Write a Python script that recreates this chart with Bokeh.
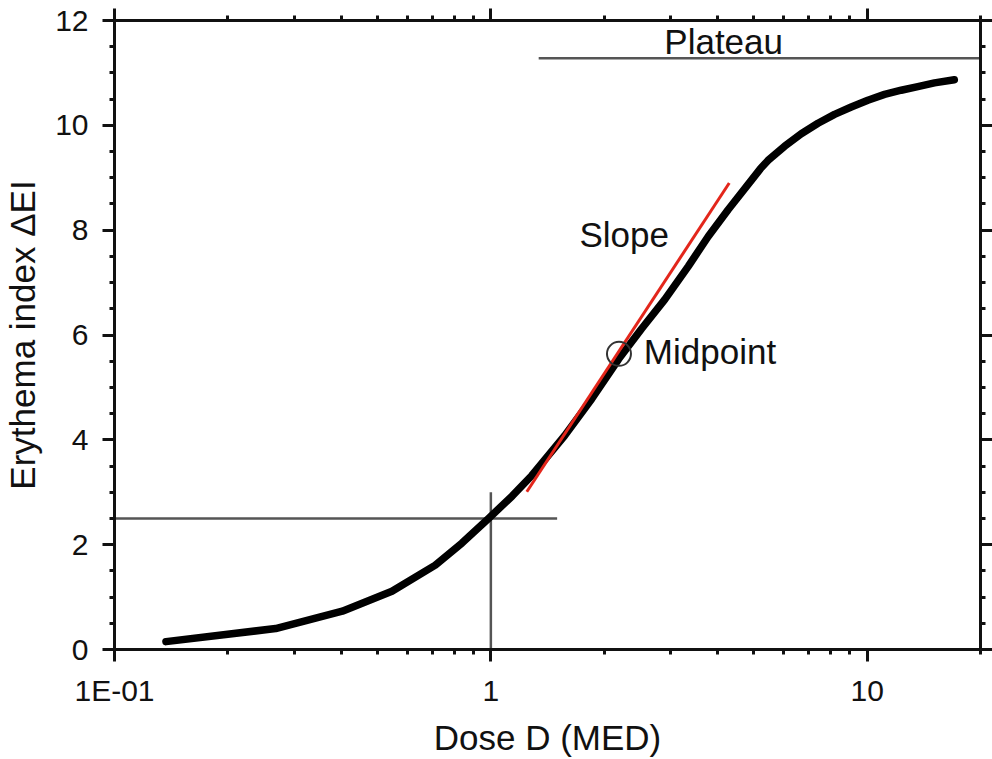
from bokeh.plotting import figure
from bokeh.models import (LogAxis, LinearAxis, FixedTicker, SingleIntervalTicker,
                          Label, Range1d, LogScale)
from bokeh.embed import file_html
from bokeh.resources import INLINE

# ---- data ----
dose = [0.137, 0.268, 0.403, 0.546, 0.712, 0.838, 0.986, 1.14, 1.285,
        1.571, 1.853, 2.186, 2.515, 2.90, 3.346, 3.78, 4.27, 4.92, 5.2,
        5.45, 6.03, 6.68, 7.40, 8.19, 9.07, 10.04, 11.12, 12.31, 13.63,
        15.09, 17.04]
erythema = [0.15, 0.40, 0.73, 1.11, 1.61, 2.03, 2.50, 2.93, 3.32,
            4.08, 4.78, 5.54, 6.12, 6.68, 7.31, 7.88, 8.39, 8.95, 9.17,
            9.33, 9.60, 9.84, 10.04, 10.21, 10.35, 10.48, 10.59, 10.67,
            10.74, 10.81, 10.87]

slope_x = [1.246, 4.30]
slope_y = [3.01, 8.90]

threshold_h_x = [0.1, 1.5]
threshold_h_y = [2.5, 2.5]
threshold_v_x = [1.0, 1.0]
threshold_v_y = [0.0, 3.0]

plateau_x = [1.34, 20.0]
plateau_y = [11.28, 11.28]

midpoint_x = [2.19]
midpoint_y = [5.64]

x_major = [0.1, 1, 10]
x_minor = [0.2, 0.3, 0.4, 0.5, 0.6, 0.7, 0.8, 0.9,
           2, 3, 4, 5, 6, 7, 8, 9, 20]
x_labels = {0.1: "1E-01", 1: "1", 10: "10"}

FONT = "Liberation Sans"

p = figure(width=992, height=759,
           x_range=Range1d(0.1, 20), y_range=Range1d(0, 12),
           output_backend="svg", toolbar_location=None,
           min_border_left=113, min_border_right=12, min_border_top=20,
           min_border_bottom=107)
p.x_scale = LogScale()
p.below = []
p.left = []
p.grid.visible = False
p.outline_line_color = None
p.background_fill_color = "white"
p.border_fill_color = "white"


def style_axis(ax, show_labels, tick_out, standoff=12):
    ax.axis_line_width = 3
    ax.axis_line_color = "#111111"
    ax.major_tick_line_width = 3
    ax.minor_tick_line_width = 3
    ax.major_tick_line_color = "#111111"
    ax.minor_tick_line_color = "#111111"
    ax.major_tick_in = 0
    ax.major_tick_out = tick_out
    ax.minor_tick_in = 0
    ax.minor_tick_out = 5
    if show_labels:
        ax.major_label_text_font = FONT
        ax.major_label_text_font_size = "30px"
        ax.major_label_text_color = "#111111"
        ax.major_label_standoff = standoff
        ax.axis_label_text_font = FONT
        ax.axis_label_text_font_size = "35px"
        ax.axis_label_text_font_style = "normal"
        ax.axis_label_text_color = "#111111"
    else:
        ax.major_label_text_font_size = "1px"
        ax.major_label_text_alpha = 0
        ax.major_label_standoff = 0


def xticker():
    return FixedTicker(ticks=x_major, minor_ticks=x_minor)


def yticker():
    return SingleIntervalTicker(interval=2, num_minor_ticks=4)


xb = LogAxis(ticker=xticker(), major_label_overrides=x_labels,
             axis_label="Dose D (MED)")
style_axis(xb, True, 12, 12)
xb.axis_label_standoff = 8
p.add_layout(xb, "below")
xt = LogAxis(ticker=xticker())
style_axis(xt, False, 12)
p.add_layout(xt, "above")

yl = LinearAxis(ticker=yticker(), axis_label="Erythema index ΔEI")
style_axis(yl, True, 12, 14)
yl.axis_label_standoff = 10
yl.axis_label_text_line_height = 1.0
p.add_layout(yl, "left")
yr = LinearAxis(ticker=yticker())
style_axis(yr, False, 12)
p.add_layout(yr, "right")

# reference lines
p.line(threshold_h_x, threshold_h_y, line_color="#555555", line_width=2.5)
p.line(threshold_v_x, threshold_v_y, line_color="#555555", line_width=2.5)
p.line(plateau_x, plateau_y, line_color="#555555", line_width=2.5)

# dose-response curve
p.line(dose, erythema, line_color="black", line_width=7.5, line_join="round",
       line_cap="round")

# slope line
p.line(slope_x, slope_y, line_color="#e3261b", line_width=3)

# midpoint
p.scatter(midpoint_x, midpoint_y, size=24, fill_color=None,
          line_color="#333333", line_width=2)

ann = dict(text_font=FONT, text_font_size="35px", text_color="#111111",
           text_baseline="middle", text_align="left")
p.add_layout(Label(x=2.89, y=11.6, text="Plateau", **ann))
p.add_layout(Label(x=1.72, y=7.92, text="Slope", **ann))
p.add_layout(Label(x=2.55, y=5.69, text="Midpoint", **ann))

open("out.html", "w").write(file_html(p, INLINE))
